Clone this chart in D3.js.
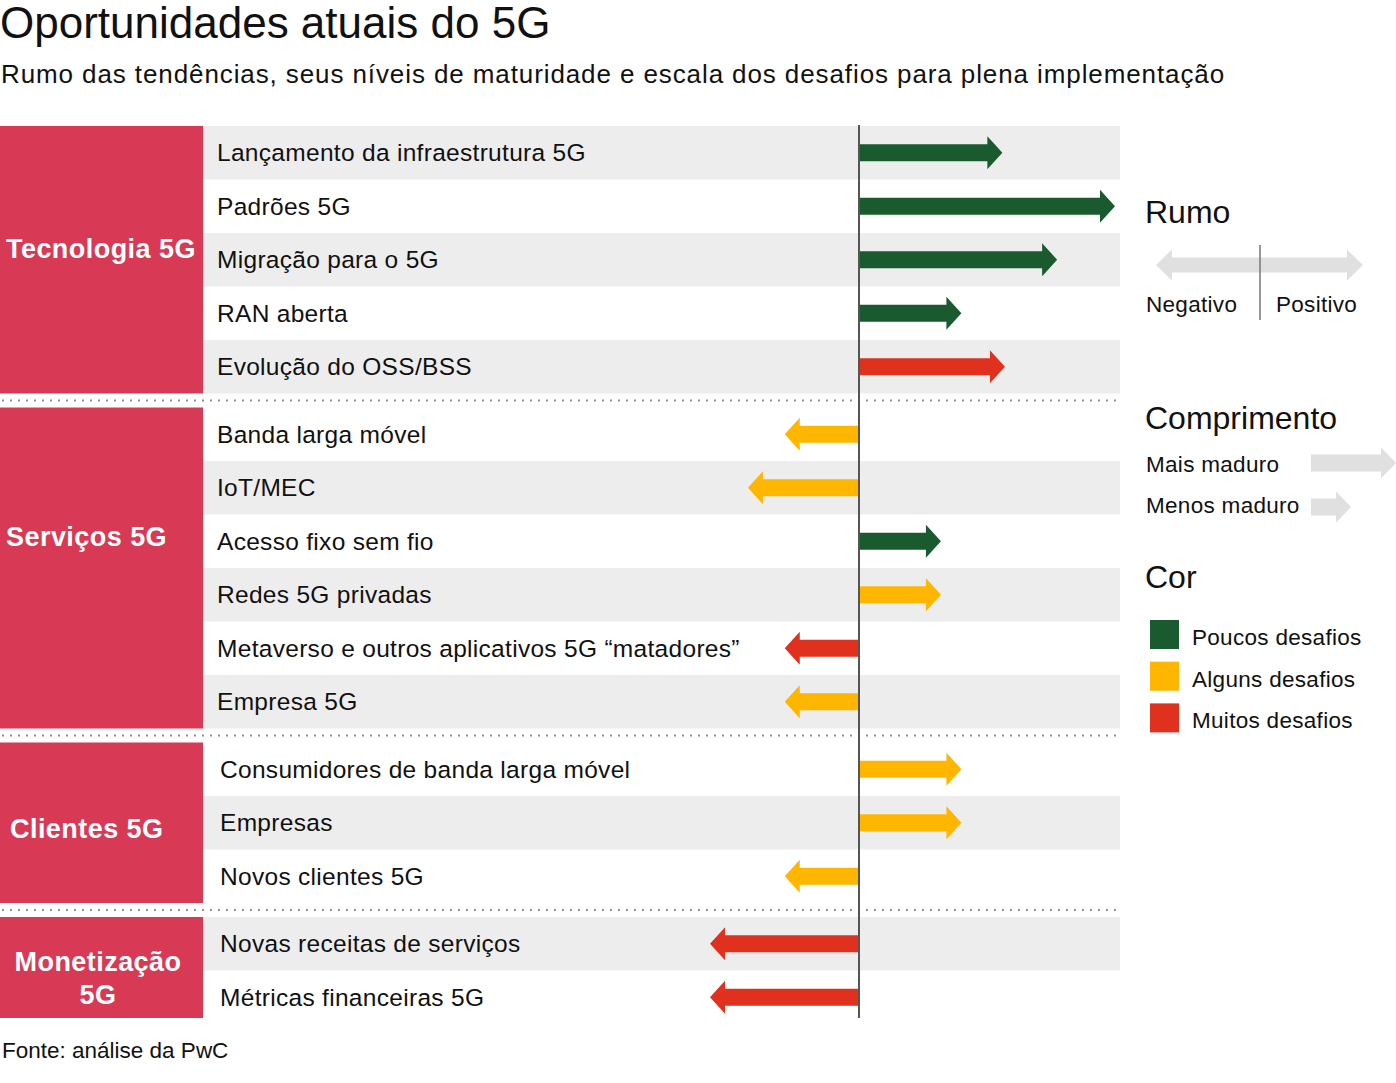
<!DOCTYPE html>
<html>
<head>
<meta charset="utf-8">
<script src="https://cdn.jsdelivr.net/npm/d3@7"></script>
<style>
  html, body { margin: 0; padding: 0; background: #fff; }
  svg { display: block; font-family: "Liberation Sans", Arial, Helvetica, sans-serif; }
</style>
</head>
<body>
<svg id="chart" width="1396" height="1083"></svg>
<script>
// ---- data ----
const groups = ["Tecnologia 5G", "Serviços 5G", "Clientes 5G", "Monetização 5G"];
const groupSizes = [5, 6, 3, 2];
const items = [
  "Lançamento da infraestrutura 5G",
  "Padrões 5G",
  "Migração para o 5G",
  "RAN aberta",
  "Evolução do OSS/BSS",
  "Banda larga móvel",
  "IoT/MEC",
  "Acesso fixo sem fio",
  "Redes 5G privadas",
  "Metaverso e outros aplicativos 5G “matadores”",
  "Empresa 5G",
  "Consumidores de banda larga móvel",
  "Empresas",
  "Novos clientes 5G",
  "Novas receitas de serviços",
  "Métricas financeiras 5G"
];
// signed direction * maturity (positive = positive direction)
const trend = [2.8, 5.0, 3.87, 2.0, 2.85, -1.45, -2.17, 1.6, 1.6, -1.45, -1.45, 2.0, 2.0, -1.45, -2.91, -2.91];
// challenge level: 0 = few, 1 = some, 2 = many
const challenge = [0, 0, 0, 0, 2, 1, 1, 0, 1, 2, 1, 1, 1, 1, 2, 2];
const challengeLabels = ["Poucos desafios", "Alguns desafios", "Muitos desafios"];
const challengeColors = ["#1a5a2f", "#ffb600", "#e0301e"];

// ---- layout ----
const svg = d3.select("#chart");
const rowH = 53.5, gap = 14, top0 = 126, chartBottom = 1018;
const blockW = 203, rowRight = 1120;
const axisX = 859;
const x = d3.scaleLinear().domain([0, 5]).range([axisX, 1115]);
const color = d3.scaleOrdinal().domain([0, 1, 2]).range(challengeColors);

// compute row positions with group gaps
const rows = [];
const groupBoxes = [];
let cursor = top0, idx = 0;
groupSizes.forEach((n, g) => {
  const gTop = cursor;
  for (let i = 0; i < n; i++) {
    rows.push({ i: idx, g, label: items[idx], v: trend[idx], c: challenge[idx], y0: cursor, y1: cursor + rowH });
    cursor += rowH; idx++;
  }
  groupBoxes.push({ g, name: groups[g], y0: gTop, y1: Math.min(cursor, chartBottom) });
  cursor += gap;
});
const bottomY = Math.min(rows[rows.length - 1].y1, chartBottom);

// title
svg.append("text").attr("x", 0).attr("y", 38).attr("font-size", 44).attr("fill", "#111")
  .text("Oportunidades atuais do 5G");
svg.append("text").attr("x", 1).attr("y", 83).attr("font-size", 26).attr("letter-spacing", 0.9).attr("fill", "#111")
  .text("Rumo das tendências, seus níveis de maturidade e escala dos desafios para plena implementação");

// row backgrounds
svg.append("g").selectAll("rect").data(rows.filter(r => r.i % 2 === 0)).join("rect")
  .attr("x", blockW).attr("y", d => d.y0).attr("width", rowRight - blockW)
  .attr("height", d => Math.min(d.y1, chartBottom) - d.y0)
  .attr("fill", "#ededed");

// group blocks
svg.append("g").selectAll("rect").data(groupBoxes).join("rect")
  .attr("x", 0).attr("y", d => d.y0).attr("width", blockW).attr("height", d => d.y1 - d.y0)
  .attr("fill", "#d83955");

// group labels (per-group text placement)
const glLayout = [
  { x: 6, anchor: "start", dy: [-2] },
  { x: 6, anchor: "start", dy: [-22] },
  { x: 10, anchor: "start", dy: [15] },
  { x: 98, anchor: "middle", dy: [3.5, 36.5] }
];
groupBoxes.forEach((b, g) => {
  const L = glLayout[g];
  const cy = (b.y0 + b.y1) / 2;
  const lines = g === 3 ? ["Monetização", "5G"] : [b.name];
  lines.forEach((t, k) => {
    svg.append("text").attr("x", L.x).attr("y", cy + L.dy[k])
      .attr("text-anchor", L.anchor).attr("font-size", 27).attr("letter-spacing", 0.45)
      .attr("font-weight", "bold").attr("fill", "#fff").text(t);
  });
});

// dotted separators
for (let g = 0; g < groupBoxes.length - 1; g++) {
  const yy = (groupBoxes[g].y1 + groupBoxes[g + 1].y0) / 2;
  svg.append("line").attr("x1", 2).attr("x2", rowRight).attr("y1", yy).attr("y2", yy)
    .attr("stroke", "#8f8f8f").attr("stroke-width", 2.2).attr("stroke-dasharray", "2,6");
}

// row labels
svg.append("g").selectAll("text").data(rows).join("text")
  .attr("x", d => d.g >= 2 ? 220 : 217)
  .attr("y", d => (d.y0 + d.y1) / 2 + 8.5)
  .attr("font-size", 24.5).attr("letter-spacing", 0.3).attr("fill", "#111")
  .text(d => d.label);

// arrow path generator
function arrowPath(x0, x1, yc, sh, hh, hl) {
  const dir = Math.sign(x1 - x0) || 1;
  const b = x1 - dir * hl;
  return `M${x0},${yc - sh}L${b},${yc - sh}L${b},${yc - hh}L${x1},${yc}L${b},${yc + hh}L${b},${yc + sh}L${x0},${yc + sh}Z`;
}

svg.append("g").selectAll("path").data(rows).join("path")
  .attr("d", d => arrowPath(x(0), x(d.v), (d.y0 + d.y1) / 2, 8.5, 16.5, 15))
  .attr("fill", d => color(d.c));

// central axis
svg.append("line").attr("x1", axisX).attr("x2", axisX).attr("y1", top0 - 1).attr("y2", bottomY)
  .attr("stroke", "#555").attr("stroke-width", 2);

// source
svg.append("text").attr("x", 2).attr("y", 1058).attr("font-size", 22.5).attr("fill", "#111")
  .text("Fonte: análise da PwC");

// ---- legend ----
const lg = svg.append("g");
const lgGray = "#e0e0e0";
lg.append("text").attr("x", 1145).attr("y", 223).attr("font-size", 32).attr("fill", "#111").text("Rumo");
lg.append("path").attr("d", arrowPath(1260, 1156, 265, 7.5, 15.5, 16)).attr("fill", lgGray);
lg.append("path").attr("d", arrowPath(1260, 1363, 265, 7.5, 15.5, 16)).attr("fill", lgGray);
lg.append("line").attr("x1", 1260).attr("x2", 1260).attr("y1", 245).attr("y2", 320)
  .attr("stroke", "#777").attr("stroke-width", 1.5);
lg.append("text").attr("x", 1146).attr("y", 312).attr("font-size", 22.5).attr("letter-spacing", 0.3).attr("fill", "#111").text("Negativo");
lg.append("text").attr("x", 1276).attr("y", 312).attr("font-size", 22.5).attr("letter-spacing", 0.3).attr("fill", "#111").text("Positivo");

lg.append("text").attr("x", 1145).attr("y", 429).attr("font-size", 32).attr("fill", "#111").text("Comprimento");
lg.append("text").attr("x", 1146).attr("y", 472).attr("font-size", 22.5).attr("letter-spacing", 0.3).attr("fill", "#111").text("Mais maduro");
lg.append("path").attr("d", arrowPath(1311, 1396, 463, 8.5, 15.5, 15)).attr("fill", lgGray);
lg.append("text").attr("x", 1146).attr("y", 513).attr("font-size", 22.5).attr("letter-spacing", 0.3).attr("fill", "#111").text("Menos maduro");
lg.append("path").attr("d", arrowPath(1311, 1351, 507, 8.5, 15.5, 15)).attr("fill", lgGray);

lg.append("text").attr("x", 1145).attr("y", 588).attr("font-size", 32).attr("fill", "#111").text("Cor");
const lgItems = lg.append("g").selectAll("g").data(challengeLabels).join("g")
  .attr("transform", (d, i) => `translate(0,${620 + i * 41.7})`);
lgItems.append("rect").attr("x", 1150).attr("y", 0).attr("width", 29).attr("height", 29)
  .attr("fill", (d, i) => color(i));
lgItems.append("text").attr("x", 1192).attr("y", 25).attr("font-size", 22.5).attr("letter-spacing", 0.3)
  .attr("fill", "#111").text(d => d);
</script>
</body>
</html>
